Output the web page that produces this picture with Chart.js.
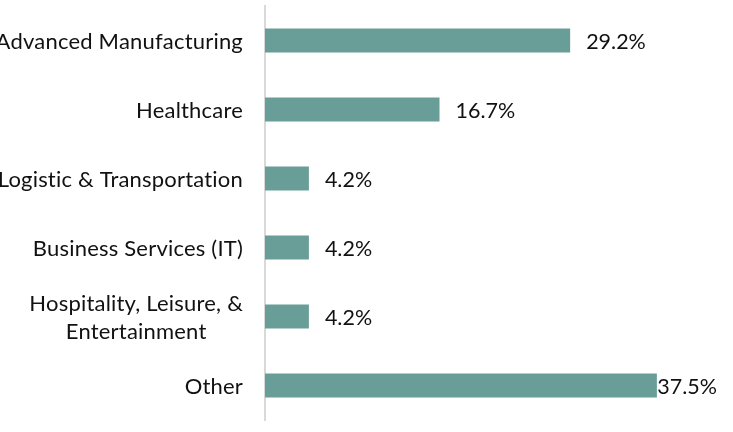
<!DOCTYPE html>
<html>
<head>
<meta charset="utf-8">
<script src="https://cdn.jsdelivr.net/npm/chart.js@4/dist/chart.umd.min.js"></script>
<style>
  html, body { margin: 0; padding: 0; background: #fff; }
  #wrap { width: 733px; height: 432px; }
</style>
</head>
<body>
<div id="wrap"><canvas id="sectors"></canvas></div>
<script>
let SECTORS = [
    ['Advanced Manufacturing'],
    ['Healthcare'],
    ['Logistic & Transportation'],
    ['Business Services (IT)'],
    ['Hospitality, Leisure, &', 'Entertainment'],
    ['Other']
];
let SHARES = [29.2, 16.7, 4.2, 4.2, 4.2, 37.5];

let FAMILY = 'Lato, Carlito, "Liberation Sans", sans-serif';
let TEXT_COLOR = '#111';

// category names, each block centred on itself and right-aligned against the axis
let sectorLabels = {
    id: 'sectorLabels',
    afterDraw(chart) {
        let ctx = chart.ctx;
        let y = chart.scales.y;
        let right = chart.chartArea.left - 22;
        let lineH = 28;
        ctx.save();
        ctx.font = '22px ' + FAMILY;
        ctx.letterSpacing = '0.2px';
        ctx.fillStyle = TEXT_COLOR;
        ctx.textAlign = 'center';
        ctx.textBaseline = 'middle';
        SECTORS.forEach(function(lines, i) {
            let w = Math.max.apply(null, lines.map(l => ctx.measureText(l).width));
            let cx = right - w / 2;
            let cy = y.getPixelForValue(i) - (lines.length - 1) * lineH / 2 + 1;
            lines.forEach(function(l, k) {
                ctx.fillText(l, cx, cy + k * lineH);
            });
        });
        ctx.restore();
    }
};

// percentage next to each bar, pulled back in when it would run off the edge
let shareLabels = {
    id: 'shareLabels',
    afterDatasetsDraw(chart) {
        let ctx = chart.ctx;
        let meta = chart.getDatasetMeta(0);
        ctx.save();
        ctx.font = '21.5px ' + FAMILY;
        ctx.fillStyle = TEXT_COLOR;
        ctx.textAlign = 'left';
        ctx.textBaseline = 'middle';
        meta.data.forEach(function(bar, i) {
            let txt = SHARES[i].toFixed(1) + '%';
            let w = ctx.measureText(txt).width;
            let x = Math.min(bar.x + 16, chart.width - 16 - w);
            ctx.fillText(txt, x, bar.y + 2);
        });
        ctx.restore();
    }
};

new Chart(document.getElementById('sectors'), {
    type: 'bar',
    data: {
        labels: SECTORS,
        datasets: [{
            data: SHARES,
            backgroundColor: '#689d98',
            borderWidth: 0,
            barPercentage: 0.7,
            categoryPercentage: 0.5
        }]
    },
    options: {
        indexAxis: 'y',
        responsive: true,
        maintainAspectRatio: false,
        animation: false,
        layout: { padding: { top: 6, bottom: 12, right: 50, left: 0 } },
        plugins: {
            legend: { display: false },
            tooltip: { enabled: false }
        },
        scales: {
            x: {
                display: false,
                min: 0,
                max: 40
            },
            y: {
                grid: { display: false },
                border: { display: true, color: '#d9d9d9', width: 2 },
                ticks: { display: false },
                afterFit(scale) { scale.width = 265; }
            }
        }
    },
    plugins: [sectorLabels, shareLabels]
});
</script>
</body>
</html>
